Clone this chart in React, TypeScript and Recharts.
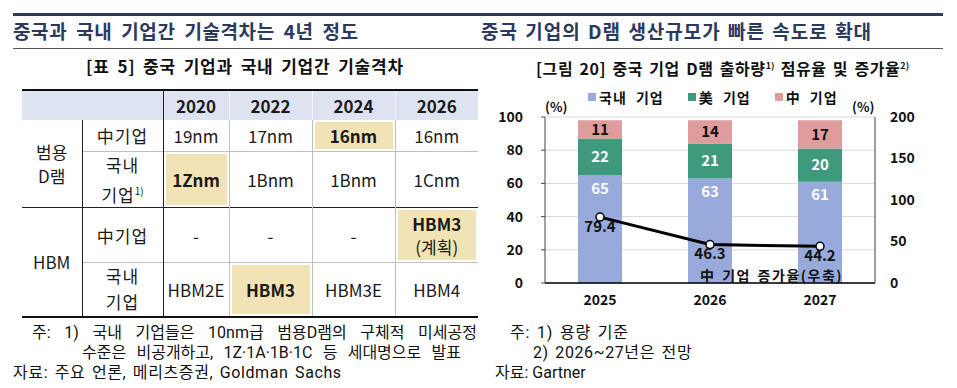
import {
  Bar,
  CartesianGrid,
  ComposedChart,
  LabelList,
  Line,
  XAxis,
  YAxis,
} from "recharts";

const years = ["2025", "2026", "2027"];
const domesticShare = [65, 63, 61];
const usShare = [22, 21, 20];
const chinaShare = [11, 14, 17];
const chinaGrowth = [79.4, 46.3, 44.2];
const leftTicks = [0, 20, 40, 60, 80, 100];
const rightTicks = [0, 50, 100, 150, 200];

const tableYears = ["2020", "2022", "2024", "2026"];
const dramChina = ["19nm", "17nm", "16nm", "16nm"];
const dramKorea = ["1Znm", "1Bnm", "1Bnm", "1Cnm"];
const hbmChina = ["-", "-", "-", "HBM3"];
const hbmKorea = ["HBM2E", "HBM3", "HBM3E", "HBM4"];

const FONT = '"Noto Sans CJK KR", "Noto Sans", sans-serif';
const NOTE_FONT = 'Roboto, "Noto Sans CJK KR", sans-serif';
const NAVY = "#2b3a5c";
const BLUE = "#98aadc";
const GREEN = "#3e9a7c";
const PINK = "#e09b9c";
const HEAD_BG = "#dde3f1";
const HL = "#f1e3b5";

const series = [
  { key: "domestic", name: "국내 기업", color: BLUE },
  { key: "us", name: "美 기업", color: GREEN },
  { key: "china", name: "中 기업", color: PINK },
];

const chartData = years.map((year, i) => ({
  year,
  domestic: domesticShare[i],
  us: usShare[i],
  china: chinaShare[i],
  growth: chinaGrowth[i],
}));

const gray = "1px solid #bfbfbf";
const dark = "1px solid #222";

function cell(extra: React.CSSProperties = {}): React.CSSProperties {
  return {
    padding: 0,
    textAlign: "center",
    verticalAlign: "middle",
    fontSize: 17,
    color: "#1a1a1a",
    ...extra,
  };
}

function valueCell(v: string, hl: boolean, key: number, extraTop?: boolean) {
  return (
    <td
      key={key}
      style={cell({
        borderLeft: key === 0 ? dark : gray,
        borderTop: extraTop ? dark : undefined,
        background: hl ? HL : "#fff",
        boxShadow: hl ? "inset 0 0 0 2px #fff" : undefined,
        fontWeight: hl ? 700 : 400,
      })}
    >
      {v}
    </td>
  );
}

function TechTable() {
  return (
    <table
      style={{
        position: "absolute",
        left: 22,
        top: 89,
        width: 456,
        borderCollapse: "collapse",
        tableLayout: "fixed",
        fontFamily: FONT,
        borderTop: "2px solid #111",
        borderBottom: "2px solid #111",
      }}
    >
      <colgroup>
        <col style={{ width: 60 }} />
        <col style={{ width: 81 }} />
        <col style={{ width: 66 }} />
        <col style={{ width: 83 }} />
        <col style={{ width: 83 }} />
        <col style={{ width: 83 }} />
      </colgroup>
      <tbody>
        <tr style={{ height: 30 }}>
          <td colSpan={2} style={cell({ background: HEAD_BG })} />
          {tableYears.map((y, i) => (
            <td
              key={y}
              style={cell({
                background: HEAD_BG,
                fontWeight: 700,
                borderLeft: i === 0 ? dark : "1px solid #f4f6fb",
              })}
            >
              {y}
            </td>
          ))}
        </tr>
        <tr style={{ height: 31 }}>
          <td rowSpan={2} style={cell({ lineHeight: "24px" })}>
            범용
            <br />
            D램
          </td>
          <td style={cell({ borderLeft: dark, letterSpacing: 1 })}>中기업</td>
          {dramChina.map((v, i) => valueCell(v, i === 2, i))}
        </tr>
        <tr style={{ height: 53 }}>
          <td style={cell({ borderLeft: dark, borderTop: gray, lineHeight: "26px", letterSpacing: 1 })}>
            국내
            <br />
            기업<sup style={{ fontSize: 10, letterSpacing: 0 }}>1)</sup>
          </td>
          {dramKorea.map((v, i) => (
            <td
              key={i}
              style={cell({
                borderLeft: i === 0 ? dark : gray,
                borderTop: gray,
                background: i === 0 ? HL : "#fff",
                boxShadow: i === 0 ? "inset 0 0 0 2px #fff" : undefined,
                fontWeight: i === 0 ? 700 : 400,
              })}
            >
              {v}
            </td>
          ))}
        </tr>
        <tr style={{ height: 55, borderTop: dark }}>
          <td rowSpan={2} style={cell({ borderTop: dark })}>
            HBM
          </td>
          <td style={cell({ borderLeft: dark, borderTop: dark, letterSpacing: 1 })}>中기업</td>
          {hbmChina.map((v, i) =>
            i === 3 ? (
              <td
                key={i}
                style={cell({
                  borderLeft: gray,
                  borderTop: dark,
                  background: HL,
                  boxShadow: "inset 0 0 0 2px #fff",
                  lineHeight: "23px",
                })}
              >
                <b>{v}</b>
                <br />
                (계획)
              </td>
            ) : (
              valueCell(v, false, i, true)
            ),
          )}
        </tr>
        <tr style={{ height: 54 }}>
          <td style={cell({ borderLeft: dark, borderTop: gray, lineHeight: "26px", letterSpacing: 1 })}>
            국내
            <br />
            기업
          </td>
          {hbmKorea.map((v, i) => (
            <td
              key={i}
              style={cell({
                borderLeft: i === 0 ? dark : gray,
                borderTop: gray,
                background: i === 1 ? HL : "#fff",
                boxShadow: i === 1 ? "inset 0 0 0 2px #fff" : undefined,
                fontWeight: i === 1 ? 700 : 400,
              })}
            >
              {v}
            </td>
          ))}
        </tr>
      </tbody>
    </table>
  );
}

function abs(left: number, top: number, extra: React.CSSProperties = {}): React.CSSProperties {
  return { position: "absolute", left, top, whiteSpace: "nowrap", ...extra };
}

export default function App() {
  return (
    <div
      style={{
        position: "absolute",
        left: 0,
        top: 0,
        width: 957,
        height: 388,
        background: "#fff",
        fontFamily: FONT,
        color: "#111",
        overflow: "hidden",
      }}
    >
      {/* heading rules */}
      <div style={abs(13, 13, { width: 930, height: 3, background: NAVY })} />
      <div style={abs(13, 48, { width: 930, height: 1, background: "#555" })} />

      <div
        style={abs(13, 18, {
          fontSize: 19,
          fontWeight: 700,
          color: NAVY,
          lineHeight: "26px",
          letterSpacing: 0.6,
          wordSpacing: 4,
        })}
      >
        중국과 국내 기업간 기술격차는 4년 정도
      </div>
      <div
        style={abs(481, 18, {
          fontSize: 19,
          fontWeight: 700,
          color: NAVY,
          lineHeight: "26px",
          letterSpacing: 1,
          wordSpacing: 2,
        })}
      >
        중국 기업의 D램 생산규모가 빠른 속도로 확대
      </div>

      <div
        style={abs(0, 54, {
          width: 490,
          textAlign: "center",
          fontSize: 17,
          fontWeight: 700,
          lineHeight: "24px",
          letterSpacing: 0.8,
          wordSpacing: 3,
        })}
      >
        [표 5] 중국 기업과 국내 기업간 기술격차
      </div>
      <div
        style={abs(480, 54, {
          width: 485,
          textAlign: "center",
          fontSize: 16,
          fontWeight: 700,
          lineHeight: "24px",
          letterSpacing: 0.6,
          wordSpacing: 2,
        })}
      >
        [그림 20] 중국 기업 D램 출하량<sup style={{ fontSize: 9, letterSpacing: 0 }}>1)</sup> 점유율 및 증가율
        <sup style={{ fontSize: 9, letterSpacing: 0 }}>2)</sup>
      </div>

      <TechTable />

      {/* left notes */}
      <div
        style={abs(32, 323, {
          width: 445,
          fontFamily: NOTE_FONT,
          fontSize: 16,
          lineHeight: "20px",
          textAlign: "justify",
          textAlignLast: "justify",
        })}
      >
        주: 1) 국내 기업들은 10nm급 범용D램의 구체적 미세공정
      </div>
      <div
        style={abs(82, 343, {
          width: 379,
          fontFamily: NOTE_FONT,
          fontSize: 16,
          lineHeight: "20px",
          textAlign: "justify",
          textAlignLast: "justify",
        })}
      >
        수준은 비공개하고, 1Z·1A·1B·1C 등 세대명으로 발표
      </div>
      <div
        style={abs(13, 363, {
          fontFamily: NOTE_FONT,
          fontSize: 16,
          lineHeight: "20px",
          letterSpacing: 0.6,
          wordSpacing: 2,
        })}
      >
        자료: 주요 언론, 메리츠증권, Goldman Sachs
      </div>

      {/* chart */}
      <div style={abs(480, 80)}>
        <ComposedChart
          width={477}
          height={240}
          data={chartData}
          margin={{ top: 37, right: 32, bottom: 7, left: 25 }}
        >
          <CartesianGrid yAxisId="left" vertical={false} stroke="#d9d9d9" />
          <XAxis
            dataKey="year"
            axisLine={{ stroke: "#000", strokeWidth: 1.5 }}
            tickLine={false}
            tickSize={0}
            tickMargin={12}
            height={30}
            tick={{ fontSize: 14, fontWeight: 700, fill: "#111", fontFamily: FONT }}
          />
          <YAxis
            yAxisId="left"
            domain={[0, 100]}
            ticks={leftTicks}
            width={40}
            axisLine={{ stroke: "#444" }}
            tickLine={{ stroke: "#444" }}
            tickSize={4}
            tickMargin={18}
            tick={{ fontSize: 14, fontWeight: 700, fill: "#111", fontFamily: FONT }}
          />
          <YAxis
            yAxisId="right"
            orientation="right"
            domain={[0, 200]}
            ticks={rightTicks}
            width={50}
            axisLine={{ stroke: "#444" }}
            tickLine={false}
            tickSize={5}
            tickMargin={10}
            tick={{ fontSize: 14, fontWeight: 700, fill: "#111", fontFamily: FONT }}
          />
          <Bar yAxisId="left" dataKey="domestic" stackId="s" fill={BLUE} barSize={44} isAnimationActive={false}>
            <LabelList
              dataKey="domestic"
              position="insideTop"
              offset={8}
              fill="#fff"
              fontSize={15}
              fontWeight={700}
              fontFamily={FONT}
            />
          </Bar>
          <Bar yAxisId="left" dataKey="us" stackId="s" fill={GREEN} barSize={44} isAnimationActive={false}>
            <LabelList dataKey="us" position="center" fill="#fff" fontSize={15} fontWeight={700} fontFamily={FONT} />
          </Bar>
          <Bar yAxisId="left" dataKey="china" stackId="s" fill={PINK} barSize={44} isAnimationActive={false}>
            <LabelList dataKey="china" position="center" fill="#111" fontSize={15} fontWeight={700} fontFamily={FONT} />
          </Bar>
          <Line
            yAxisId="right"
            dataKey="growth"
            stroke="#000"
            strokeWidth={3}
            dot={{ r: 4, fill: "#fff", stroke: "#000", strokeWidth: 1.5 }}
            isAnimationActive={false}
          >
            <LabelList
              dataKey="growth"
              position="bottom"
              offset={4}
              fill="#111"
              fontSize={15}
              fontWeight={700}
              fontFamily={FONT}
            />
          </Line>
        </ComposedChart>
      </div>

      {/* legend */}
      <div
        style={abs(588, 86, {
          display: "flex",
          gap: 24,
          fontSize: 14,
          fontWeight: 700,
          lineHeight: "22px",
          letterSpacing: 1,
          wordSpacing: 5,
        })}
      >
        {series.map((s) => (
          <span key={s.key} style={{ display: "flex", alignItems: "center" }}>
            <span style={{ width: 8, height: 8, background: s.color, marginRight: 3 }} />
            {s.name}
          </span>
        ))}
      </div>
      <div style={abs(545, 98, { fontSize: 13, fontWeight: 700, lineHeight: "18px" })}>(%)</div>
      <div style={abs(852, 98, { fontSize: 13, fontWeight: 700, lineHeight: "18px" })}>(%)</div>
      <div
        style={abs(700, 268, {
          fontSize: 14,
          fontWeight: 700,
          lineHeight: "14px",
          letterSpacing: 1.5,
          wordSpacing: 2,
        })}
      >
        中 기업 증가율(우축)
      </div>

      {/* right notes */}
      <div
        style={abs(510, 323, {
          fontFamily: NOTE_FONT,
          fontSize: 16,
          lineHeight: "20px",
          letterSpacing: 0.8,
          wordSpacing: 2,
        })}
      >
        주: 1) 용량 기준
      </div>
      <div
        style={abs(533, 343, {
          fontFamily: NOTE_FONT,
          fontSize: 16,
          lineHeight: "20px",
          letterSpacing: 0.6,
          wordSpacing: 2,
        })}
      >
        2) 2026~27년은 전망
      </div>
      <div style={abs(495, 363, { fontFamily: NOTE_FONT, fontSize: 16, lineHeight: "20px" })}>
        자료: Gartner
      </div>
    </div>
  );
}
